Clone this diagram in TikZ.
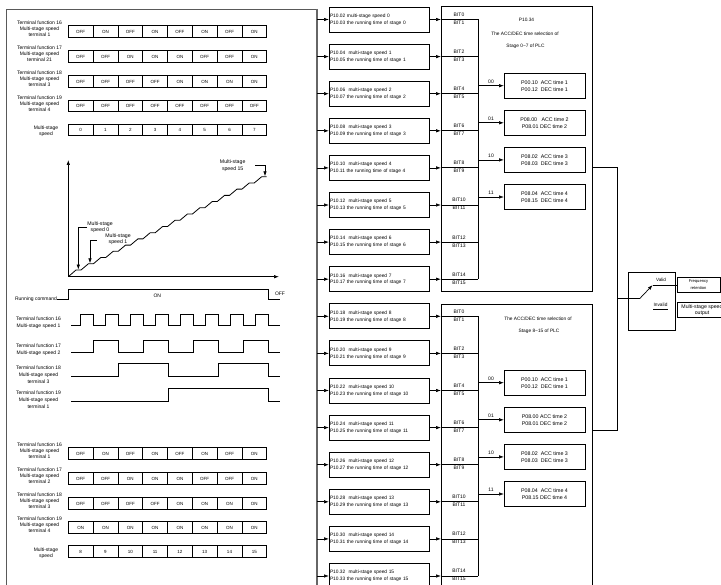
\documentclass[tikz,border=0pt]{standalone}
\usepackage{fontspec}
\setmainfont{Liberation Sans}
\usetikzlibrary{arrows.meta,calc}
\newcommand\cellrow[3]{%
  \foreach \v [count=\c from 0] in {#3} {
    \node[cell] (#1-\c) at ({80.7+24.8*\c},#2) {\v};
  }}
\begin{document}
\begin{tikzpicture}[x=1pt,y=-1pt,
  every node/.style={inner sep=0pt,outer sep=0pt},
  lab/.style={align=center,font=\fontsize{5}{5.9}\selectfont},
  wlab/.style={align=center,font=\fontsize{5}{6.8}\selectfont},
  glab/.style={align=center,font=\fontsize{5.2}{6.3}\selectfont},
  cell/.style={draw,line width=0.75pt,minimum width=24.8pt,minimum height=11.5pt,font=\fontsize{4.5}{5}\selectfont},
  mbox/.style={draw,line width=0.8pt,anchor=north west,text width=98pt,inner xsep=1pt,minimum height=25pt,align=left,font=\fontsize{4.85}{6.9}\selectfont},
  big/.style={draw,line width=0.8pt,anchor=north west,minimum width=151pt},
  bitlab/.style={font=\fontsize{5}{6}\selectfont},
  acc/.style={draw,line width=0.8pt,minimum width=81pt,minimum height=24.5pt,align=center,font=\fontsize{5.3}{7}\selectfont},
  ttl/.style={font=\fontsize{4.8}{6}\selectfont},
  arr/.style={-{Latex[length=5pt,width=3.5pt]},line width=0.7pt},
  ln/.style={line width=0.8pt},
  frame/.style={line width=0.9pt,draw=black!65},
]
\clip (0,0) rectangle (721,585);

% frame and bus
\coordinate (bus) at (317,0);
\draw[frame] (6,590) -- (6,9) -- (317,9);
\draw[line width=1.3pt,draw=black!60] (317,9) -- (317,590);

% ---------- top table ----------
\cellrow{tA1}{31.5}{OFF,ON,OFF,ON,OFF,ON,OFF,ON}
\cellrow{tA2}{56.5}{OFF,OFF,ON,ON,ON,OFF,OFF,ON}
\cellrow{tA3}{81.5}{OFF,OFF,OFF,OFF,ON,ON,ON,ON}
\cellrow{tA4}{106}{OFF,OFF,OFF,OFF,OFF,OFF,OFF,OFF}
\cellrow{tA5}{130}{0,1,2,3,4,5,6,7}
\node[lab] (lA1) at (39.5,29) {Terminal function 16\\Multi-stage speed\\terminal 1};
\node[lab] (lA2) at (39.5,54) {Terminal function 17\\Multi-stage speed\\terminal 21};
\node[lab] (lA3) at (39.5,79) {Terminal function 18\\Multi-stage speed\\terminal 3};
\node[lab] (lA4) at (39.5,103.5) {Terminal function 19\\Multi-stage speed\\terminal 4};
\node[lab] (lA5) at (46,131.5) {Multi-stage\\speed};

% ---------- bottom table ----------
\cellrow{tB1}{453.5}{OFF,ON,OFF,ON,OFF,ON,OFF,ON}
\cellrow{tB2}{478.5}{OFF,OFF,ON,ON,ON,OFF,OFF,ON}
\cellrow{tB3}{503.5}{OFF,OFF,OFF,OFF,ON,ON,ON,ON}
\cellrow{tB4}{527.5}{ON,ON,ON,ON,ON,ON,ON,ON}
\cellrow{tB5}{551.5}{8,9,10,11,12,13,14,15}
\node[lab] (lB1) at (39.5,451) {Terminal function 16\\Multi-stage speed\\terminal 1};
\node[lab] (lB2) at (39.5,476) {Terminal function 17\\Multi-stage speed\\terminal 2};
\node[lab] (lB3) at (39.5,501) {Terminal function 18\\Multi-stage speed\\terminal 3};
\node[lab] (lB4) at (39.5,525) {Terminal function 19\\Multi-stage speed\\terminal 4};
\node[lab] (lB5) at (46,553) {Multi-stage\\speed};

% ---------- speed graph ----------
\coordinate (org) at (68.3,276.7);
\draw[arr] (org) -- (68.3,160);
\draw[arr] (org) -- (279,276.7);
\draw[ln] (org) \foreach \k in {0,...,15} { -- ({76+12.38*\k},{270-6.22*\k}) -- ({81+12.38*\k},{270-6.22*\k}) };
\node[glab] (g0) at (100,227) {Multi-stage\\speed 0};
\node[glab] (g1) at (118,239) {Multi-stage\\speed 1};
\node[glab] (g15) at (232.7,165.7) {Multi-stage\\speed 15};
\draw[arr] (87,227.3) -- (78.3,227.3) -- (78.3,269.6);
\draw[arr] (96.7,240) -- (90,240) -- (90,263.4);
\draw[arr] (255,165.7) -- (265,165.7) -- (265,176.3);

% ---------- waveforms ----------
\node[wlab,anchor=east] (wr) at (57,299.5) {Running command};
\draw[ln] (wr.east) -- (68.3,299.5) -- (68.3,289.3) -- (268.3,289.3) -- (268.3,299.5) -- (280,299.5);
\node[wlab] (won) at (157.3,296) {ON};
\node[wlab] (woff) at (280,294) {OFF};

\node[wlab] (w16) at (38.5,322.5) {Terminal function 16\\Multi-stage speed 1};
\draw[ln] (71,325.7) \foreach \k in {1,3,...,15} { -- ({68.3+12.5*\k},325.7) -- ({68.3+12.5*\k},314.3) -- ({80.8+12.5*\k},314.3) -- ({80.8+12.5*\k},325.7) } -- (280,325.7);

\node[wlab] (w17) at (38.5,349.7) {Terminal function 17\\Multi-stage speed 2};
\draw[ln] (71,352.7) \foreach \k in {2,6,10,14} { -- ({68.3+12.5*\k},352.7) -- ({68.3+12.5*\k},340) -- ({93.3+12.5*\k},340) -- ({93.3+12.5*\k},352.7) } -- (280,352.7);

\node[wlab] (w18) at (38.5,375) {Terminal function 18\\Multi-stage speed\\terminal 3};
\draw[ln] (71,376.7) \foreach \k in {4,12} { -- ({68.3+12.5*\k},376.7) -- ({68.3+12.5*\k},363.3) -- ({118.3+12.5*\k},363.3) -- ({118.3+12.5*\k},376.7) } -- (280,376.7);

\node[wlab] (w19) at (38.5,400) {Terminal function 19\\Multi-stage speed\\terminal 1};
\draw[ln] (71,401) -- (168.3,401) -- (168.3,388.3) -- (268.3,388.3) -- (268.3,401) -- (280,401);

% ---------- big selection boxes ----------
\node[big,minimum height=285pt] (bigA) at (441,6) {};
\node[big,minimum height=300pt] (bigB) at (441,304) {};
\coordinate (bx) at (441,0);
\coordinate (vx) at (478,0);

% ---------- middle parameter boxes ----------
\foreach \i in {0,...,15} {
  \pgfmathsetmacro\ty{7+37.1*\i}
  \pgfmathtruncatemacro\pa{2+2*\i}
  \pgfmathtruncatemacro\pb{3+2*\i}
  \pgfmathtruncatemacro\j{mod(\i,8)}
  \pgfmathtruncatemacro\ba{2*\j}
  \pgfmathtruncatemacro\bb{2*\j+1}
  \node[mbox] (m\i) at (329,\ty) {P10.\ifnum\pa<10 0\fi\pa\ifnum\i>0~\fi~multi-stage speed \i\\P10.\ifnum\pb<10 0\fi\pb{} the running time of stage \i};
  \draw[arr] (m\i.west -| bus) -- (m\i.west);
  \draw[arr] (m\i.east) -- (m\i.east -| bx);
  \draw[ln] (m\i.east -| bx) -- (m\i.east -| vx);
  \node[bitlab] (bu\i) at ($(m\i.east -| bx)+(18,-4.8)$) {BIT\ba};
  \node[bitlab] (bd\i) at ($(m\i.east -| bx)+(18,3.2)$) {BIT\bb};
}
\draw[ln] (m0.east -| vx) -- (m7.east -| vx);
\draw[ln] (m8.east -| vx) -- (m15.east -| vx);

% ---------- titles ----------
\node[ttl] (tA1) at (526.5,20) {P10.34};
\node[ttl] (tA2) at (525,33.3) {The ACC/DEC time selection of};
\node[ttl] (tA3) at (525.5,46) {Stage 0\textasciitilde 7 of PLC};
\node[ttl] (tB2) at (538,318.3) {The ACC/DEC time selection of};
\node[ttl] (tB3) at (539,331) {Stage 8\textasciitilde 15 of PLC};

% ---------- ACC/DEC boxes ----------
\node[acc] (a0) at (544.5,85.7) {P00.10\ \ ACC time 1\\P00.12\ \ DEC time 1};
\node[acc] (a1) at (544.5,122.8) {P08.00\ \ \ ACC time 2\\P08.01 DEC time 2};
\node[acc] (a2) at (544.5,159.9) {P08.02\ \ ACC time 3\\P08.03\ \ DEC time 3};
\node[acc] (a3) at (544.5,197) {P08.04\ \ ACC time 4\\P08.15\ \ DEC time 4};
\node[acc] (b0) at (544.5,382.7) {P00.10\ \ ACC time 1\\P00.12\ \ DEC time 1};
\node[acc] (b1) at (544.5,419.8) {P08.00 ACC time 2\\P08.01 DEC time 2};
\node[acc] (b2) at (544.5,456.9) {P08.02\ \ ACC time 3\\P08.03\ \ DEC time 3};
\node[acc] (b3) at (544.5,494) {P08.04\ \ ACC time 4\\P08.15 DEC time 4};
\foreach \k/\lab in {0/00,1/01,2/10,3/11} {
  \draw[arr] (a\k.west -| vx) -- (a\k.west) node[midway,above=2.5pt,bitlab] (la\k) {\lab};
  \draw[arr] (b\k.west -| vx) -- (b\k.west) node[midway,above=2.5pt,bitlab] (lb\k) {\lab};
}

% ---------- output switch ----------
\node[draw,line width=0.8pt,minimum width=46.7pt,minimum height=58pt] (sw) at (651.7,301) {};
\node[draw,line width=0.8pt,minimum width=43pt,minimum height=14.3pt,align=center,font=\fontsize{4.1}{6.5}\selectfont] (fr) at (698.5,284.8) {Frequency\\retention};
\node[draw,line width=0.8pt,minimum width=50pt,minimum height=15pt,align=center,font=\fontsize{5.2}{6.6}\selectfont] (ms) at (702,310.2) {Multi-stage speed\\output};
\coordinate (jA) at (617,167);
\coordinate (jB) at (617,430);
\coordinate (jS) at (617,298.3);
\coordinate (pv) at (640,298.3);
\coordinate (pt) at (652.7,285);
\coordinate (iv) at (653,309.3);
\draw[ln] (jA -| bigA.east) -- (jA) -- (jB) -- (jB -| bigB.east);
\draw[ln] (jS) -- (pv);
\draw[arr] (pv) -- (pt);
\draw[ln] (pt) -- (pt -| fr.west);
\draw[ln] (iv) -- ++(15,0);
\node[font=\fontsize{4.6}{5}\selectfont] (vl) at (661,280) {Valid};
\node[font=\fontsize{4.8}{5}\selectfont] (il) at (660.5,305) {Invalid};
\end{tikzpicture}
\end{document}
